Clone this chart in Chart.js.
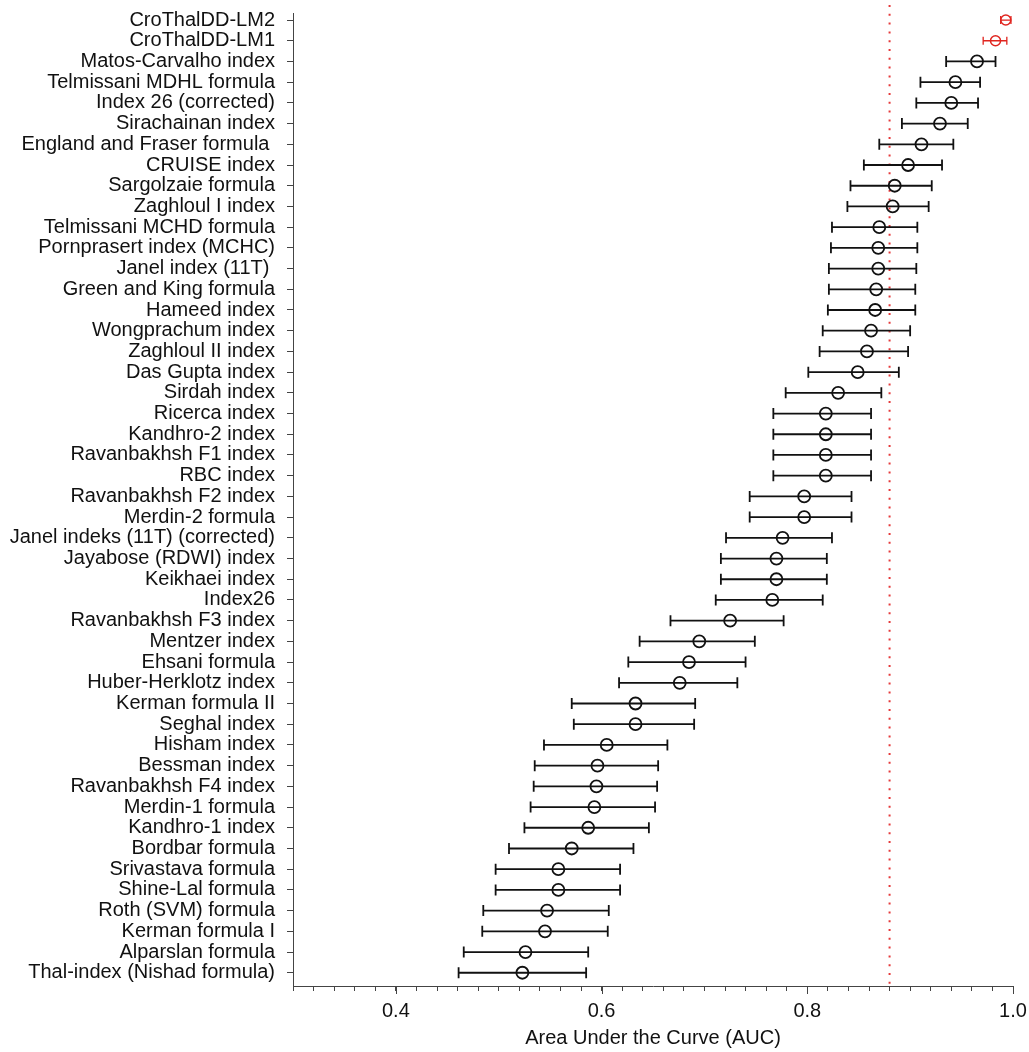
<!DOCTYPE html>
<html>
<head>
<meta charset="utf-8">
<script src="https://cdn.jsdelivr.net/npm/chart.js@4.4.1/dist/chart.umd.min.js"></script>
<style>
  body { margin: 0; background: #fff; }
  canvas { display: block; }
</style>
</head>
<body>
<canvas id="aucChart" width="1029" height="1052"></canvas>
<script>
// === DATA ===
const names = [
  "CroThalDD-LM2", "CroThalDD-LM1", "Matos-Carvalho index", "Telmissani MDHL formula",
  "Index 26 (corrected)", "Sirachainan index", "England and Fraser formula ", "CRUISE index",
  "Sargolzaie formula", "Zaghloul I index", "Telmissani MCHD formula", "Pornprasert index (MCHC)",
  "Janel index (11T) ", "Green and King formula", "Hameed index", "Wongprachum index",
  "Zaghloul II index", "Das Gupta index", "Sirdah index", "Ricerca index",
  "Kandhro-2 index", "Ravanbakhsh F1 index", "RBC index", "Ravanbakhsh F2 index",
  "Merdin-2 formula", "Janel indeks (11T) (corrected)", "Jayabose (RDWI) index", "Keikhaei index",
  "Index26", "Ravanbakhsh F3 index", "Mentzer index", "Ehsani formula",
  "Huber-Herklotz index", "Kerman formula II", "Seghal index", "Hisham index",
  "Bessman index", "Ravanbakhsh F4 index", "Merdin-1 formula", "Kandhro-1 index",
  "Bordbar formula", "Srivastava formula", "Shine-Lal formula", "Roth (SVM) formula",
  "Kerman formula I", "Alparslan formula", "Thal-index (Nishad formula)"
];

const auc = [
  0.993, 0.983, 0.965, 0.944, 0.940, 0.929, 0.911, 0.898, 0.885, 0.883,
  0.870, 0.869, 0.869, 0.867, 0.866, 0.862, 0.858, 0.849, 0.830, 0.818,
  0.818, 0.818, 0.818, 0.797, 0.797, 0.776, 0.770, 0.770, 0.766, 0.725,
  0.695, 0.685, 0.676, 0.633, 0.633, 0.605, 0.596, 0.595, 0.593, 0.587,
  0.571, 0.558, 0.558, 0.547, 0.545, 0.526, 0.523
];

const ciLow = [
  0.988, 0.971, 0.935, 0.910, 0.906, 0.892, 0.870, 0.855, 0.842, 0.839,
  0.824, 0.823, 0.821, 0.821, 0.820, 0.815, 0.812, 0.801, 0.779, 0.767,
  0.767, 0.767, 0.767, 0.744, 0.744, 0.721, 0.716, 0.716, 0.711, 0.667,
  0.637, 0.626, 0.617, 0.571, 0.573, 0.544, 0.535, 0.534, 0.531, 0.525,
  0.510, 0.497, 0.497, 0.485, 0.484, 0.466, 0.461
];

const ciHigh = [
  0.998, 0.994, 0.983, 0.968, 0.966, 0.956, 0.942, 0.931, 0.921, 0.918,
  0.907, 0.907, 0.906, 0.905, 0.905, 0.900, 0.898, 0.889, 0.872, 0.862,
  0.862, 0.862, 0.862, 0.843, 0.843, 0.824, 0.819, 0.819, 0.815, 0.777,
  0.749, 0.740, 0.732, 0.691, 0.690, 0.664, 0.655, 0.654, 0.652, 0.646,
  0.631, 0.618, 0.618, 0.607, 0.606, 0.587, 0.585
];

const newModels = ["CroThalDD-LM2", "CroThalDD-LM1"];
const cutoff = 0.88;
const xMajorTicks = [0.4, 0.6, 0.8, 1.0];
const xMinorStep = 0.02;

// === STYLE ===
const RED = "#e0251f";
const BLACK = "#111";
const AXIS = "#444";
const FONT = "'Liberation Sans', Arial, Helvetica, sans-serif";

const isNew = i => newModels.includes(names[i]);
const pointsFor = pick => names
  .map((n, i) => ({ x: auc[i], y: i + 1, i }))
  .filter(p => pick(p.i));

// === PLUGIN: error bars + cutoff line + major ticks ===
const forestPlugin = {
  id: "forest",
  beforeDatasetsDraw(chart) {
    const { ctx, chartArea, scales: { x, y } } = chart;
    ctx.save();

    // cutoff line
    const cx = x.getPixelForValue(cutoff);
    ctx.strokeStyle = "#e5393a";
    ctx.lineWidth = 2;
    ctx.setLineDash([2, 6.8]);
    ctx.beginPath();
    ctx.moveTo(cx, chartArea.top - 8);
    ctx.lineTo(cx, chartArea.bottom);
    ctx.stroke();
    ctx.setLineDash([]);

    // whiskers
    names.forEach((n, i) => {
      const red = isNew(i);
      const py = y.getPixelForValue(i + 1);
      const x0 = x.getPixelForValue(ciLow[i]);
      const x1 = x.getPixelForValue(ciHigh[i]);
      const cap = red ? 4 : 5.5;
      ctx.strokeStyle = red ? RED : BLACK;
      ctx.lineWidth = red ? 1.3 : 1.8;
      ctx.beginPath();
      ctx.moveTo(x0, py); ctx.lineTo(x1, py);
      ctx.moveTo(x0, py - cap); ctx.lineTo(x0, py + cap);
      ctx.moveTo(x1, py - cap); ctx.lineTo(x1, py + cap);
      ctx.stroke();
    });

    // longer major ticks on x axis
    ctx.strokeStyle = AXIS;
    ctx.lineWidth = 1;
    xMajorTicks.forEach(v => {
      const px = Math.round(x.getPixelForValue(v)) + 0.5;
      ctx.beginPath();
      ctx.moveTo(px, chartArea.bottom);
      ctx.lineTo(px, chartArea.bottom + 8);
      ctx.stroke();
    });
    ctx.restore();
  }
};

// === CHART ===
new Chart(document.getElementById("aucChart"), {
  type: "scatter",
  data: {
    datasets: [
      {
        label: "CroThalDD",
        data: pointsFor(i => isNew(i)),
        pointStyle: "circle",
        pointRadius: 5,
        borderColor: RED,
        borderWidth: 1.5,
        backgroundColor: "rgba(0,0,0,0)"
      },
      {
        label: "Published indices",
        data: pointsFor(i => !isNew(i)),
        pointStyle: "circle",
        pointRadius: 6,
        borderColor: BLACK,
        borderWidth: 1.8,
        backgroundColor: "rgba(0,0,0,0)"
      }
    ]
  },
  options: {
    responsive: false,
    animation: false,
    layout: { padding: { top: 13, right: 16, bottom: 0, left: 0 } },
    plugins: {
      legend: { display: false },
      tooltip: { enabled: false }
    },
    scales: {
      x: {
        type: "linear",
        position: "bottom",
        min: 0.3,
        max: 1.0,
        afterBuildTicks: s => {
          const n = Math.round((s.max - s.min) / xMinorStep);
          s.ticks = Array.from({ length: n + 1 }, (_, k) => ({
            value: Math.round((s.min + k * xMinorStep) * 100) / 100
          }));
        },
        afterFit: s => { s.height = 66; s.paddingLeft = 0; s.paddingRight = 0; },
        ticks: {
          autoSkip: false,
          maxRotation: 0,
          padding: 8,
          color: BLACK,
          font: { family: FONT, size: 20 },
          callback: v => xMajorTicks.some(m => Math.abs(m - v) < 1e-9) ? v.toFixed(1) : ""
        },
        grid: { drawOnChartArea: false, drawTicks: true, tickLength: 5, tickColor: AXIS },
        border: { display: true, color: AXIS, width: 1 },
        title: {
          display: true,
          text: "Area Under the Curve (AUC)",
          color: BLACK,
          font: { family: FONT, size: 20 },
          padding: { top: 4, bottom: 2 }
        }
      },
      y: {
        type: "linear",
        reverse: true,
        min: 0.66,
        max: 47.64,
        afterBuildTicks: s => { s.ticks = names.map((n, i) => ({ value: i + 1 })); },
        afterFit: s => { s.width = 293; s.paddingTop = 0; s.paddingBottom = 0; },
        ticks: {
          autoSkip: false,
          padding: 12,
          color: BLACK,
          font: { family: FONT, size: 20, lineHeight: 1 },
          callback: v => names[v - 1]
        },
        grid: { drawOnChartArea: false, drawTicks: true, tickLength: 6, tickColor: AXIS },
        border: { display: true, color: AXIS, width: 1 }
      }
    }
  },
  plugins: [forestPlugin]
});
</script>
</body>
</html>
